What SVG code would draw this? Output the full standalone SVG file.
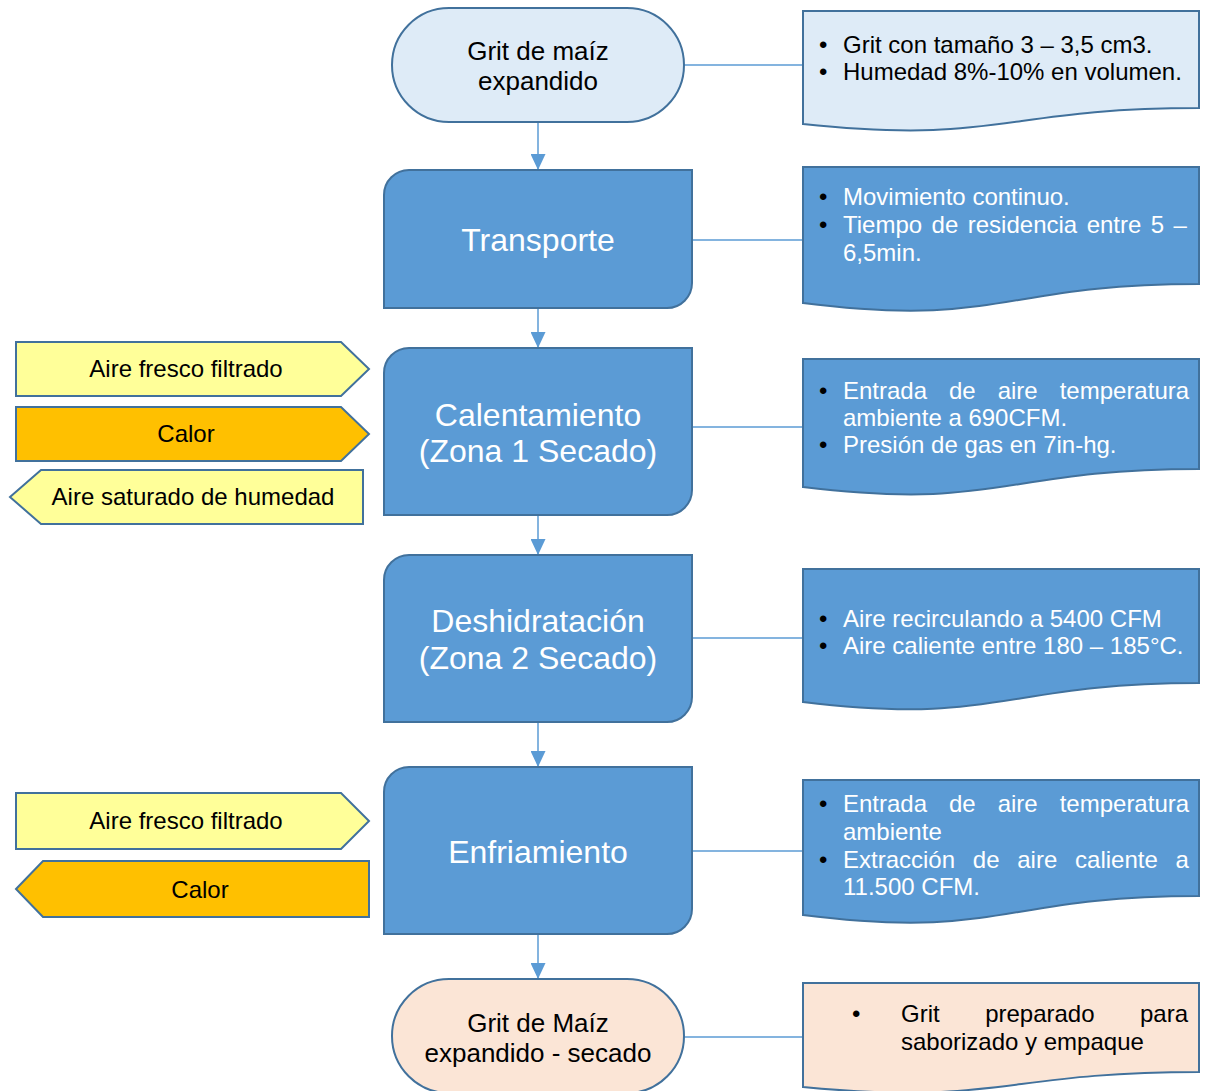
<svg xmlns="http://www.w3.org/2000/svg" width="1205" height="1091" viewBox="0 0 1205 1091">
  <style>
    text { font-family: "Liberation Sans", Arial, sans-serif; }
    .shape { stroke: #41719C; stroke-width: 2; }
    .light { fill: #DEEBF7; }
    .blue { fill: #5B9BD5; }
    .peach { fill: #FBE5D6; }
    .yellow { fill: #FFFF99; }
    .orange { fill: #FFC000; }
    .link { stroke: #5B9BD5; stroke-width: 1.5; fill: none; }
    .t26 { font-size: 26px; fill: #000; text-anchor: middle; }
    .t32 { font-size: 32px; fill: #fff; text-anchor: middle; }
    .t24 { font-size: 24px; fill: #000; text-anchor: middle; }
    .doc { font-size: 24px; }
    .dk { fill: #000; }
    .wt { fill: #fff; }
  </style>
  <defs>
    <marker id="arrow" markerWidth="16" markerHeight="15" refX="16" refY="7.5" orient="auto" markerUnits="userSpaceOnUse">
      <path d="M0,0 L16,7.5 L0,15 Z" fill="#5B9BD5"/>
    </marker>
  </defs>

  <!-- connectors -->
  <g id="connectors">
    <line class="link" x1="538" y1="122" x2="538" y2="170" marker-end="url(#arrow)"/>
    <line class="link" x1="538" y1="308" x2="538" y2="348" marker-end="url(#arrow)"/>
    <line class="link" x1="538" y1="515" x2="538" y2="555" marker-end="url(#arrow)"/>
    <line class="link" x1="538" y1="722" x2="538" y2="767" marker-end="url(#arrow)"/>
    <line class="link" x1="538" y1="934" x2="538" y2="979" marker-end="url(#arrow)"/>
    <line class="link" x1="684" y1="65" x2="803" y2="65"/>
    <line class="link" x1="692" y1="240" x2="803" y2="240"/>
    <line class="link" x1="692" y1="427" x2="803" y2="427"/>
    <line class="link" x1="692" y1="638" x2="803" y2="638"/>
    <line class="link" x1="692" y1="851" x2="803" y2="851"/>
    <line class="link" x1="684" y1="1037" x2="803" y2="1037"/>
  </g>

  <!-- main flow -->
  <g id="start">
    <rect class="shape light" x="392" y="8" width="292" height="114" rx="57"/>
    <text class="t26" x="538" y="60">Grit de maíz</text>
    <text class="t26" x="538" y="90">expandido</text>
  </g>

  <g id="transporte">
    <path class="shape blue" d="M409,170 H692 V283 A25,25 0 0 1 667,308 H384 V195 A25,25 0 0 1 409,170 Z"/>
    <text class="t32" x="538" y="251">Transporte</text>
  </g>

  <g id="calentamiento">
    <path class="shape blue" d="M409,348 H692 V490 A25,25 0 0 1 667,515 H384 V373 A25,25 0 0 1 409,348 Z"/>
    <text class="t32" x="538" y="426">Calentamiento</text>
    <text class="t32" x="538" y="462">(Zona 1 Secado)</text>
  </g>

  <g id="deshidratacion">
    <path class="shape blue" d="M409,555 H692 V697 A25,25 0 0 1 667,722 H384 V580 A25,25 0 0 1 409,555 Z"/>
    <text class="t32" x="538" y="632">Deshidratación</text>
    <text class="t32" x="538" y="669">(Zona 2 Secado)</text>
  </g>

  <g id="enfriamiento">
    <path class="shape blue" d="M409,767 H692 V909 A25,25 0 0 1 667,934 H384 V792 A25,25 0 0 1 409,767 Z"/>
    <text class="t32" x="538" y="863">Enfriamiento</text>
  </g>

  <g id="end">
    <rect class="shape peach" x="392" y="979" width="292" height="114" rx="57"/>
    <text class="t26" x="538" y="1032">Grit de Maíz</text>
    <text class="t26" x="538" y="1062">expandido - secado</text>
  </g>

  <!-- notes -->
  <g id="note-start">
    <path class="shape light" d="M803,11 H1199 V108 C1001,108 1001,145 803,124 Z"/>
    <text class="doc dk" x="819" y="53">•</text>
    <text class="doc dk" x="843" y="53">Grit con tamaño 3 – 3,5 cm3.</text>
    <text class="doc dk" x="819" y="80">•</text>
    <text class="doc dk" x="843" y="80">Humedad 8%-10% en volumen.</text>
  </g>

  <g id="note-transporte">
    <path class="shape blue" d="M803,167 H1199 V284 C1001,284 1001,328 803,303 Z"/>
    <text class="doc dk" x="819" y="205">•</text>
    <text class="doc wt" x="843" y="205">Movimiento continuo.</text>
    <text class="doc dk" x="819" y="233">•</text>
    <text class="doc wt" x="843" y="233" word-spacing="2.8">Tiempo de residencia entre 5 –</text>
    <text class="doc wt" x="843" y="261">6,5min.</text>
  </g>

  <g id="note-calentamiento">
    <path class="shape blue" d="M803,359 H1199 V469 C1001,469 1001,511 803,487 Z"/>
    <text class="doc dk" x="819" y="399">•</text>
    <text class="doc wt" x="843" y="399" word-spacing="15.3">Entrada de aire temperatura</text>
    <text class="doc wt" x="843" y="426">ambiente a 690CFM.</text>
    <text class="doc dk" x="819" y="453">•</text>
    <text class="doc wt" x="843" y="453">Presión de gas en 7in-hg.</text>
  </g>

  <g id="note-deshidratacion">
    <path class="shape blue" d="M803,569 H1199 V683 C1001,683 1001,726 803,702 Z"/>
    <text class="doc dk" x="819" y="627">•</text>
    <text class="doc wt" x="843" y="627">Aire recirculando a 5400 CFM</text>
    <text class="doc dk" x="819" y="654">•</text>
    <text class="doc wt" x="843" y="654">Aire caliente entre 180 – 185°C.</text>
  </g>

  <g id="note-enfriamiento">
    <path class="shape blue" d="M803,780 H1199 V896 C1001,896 1001,940 803,915 Z"/>
    <text class="doc dk" x="819" y="812">•</text>
    <text class="doc wt" x="843" y="812" word-spacing="15.3">Entrada de aire temperatura</text>
    <text class="doc wt" x="843" y="840">ambiente</text>
    <text class="doc dk" x="819" y="868">•</text>
    <text class="doc wt" x="843" y="868" word-spacing="11.1">Extracción de aire caliente a</text>
    <text class="doc wt" x="843" y="895">11.500 CFM.</text>
  </g>

  <g id="note-end">
    <path class="shape peach" d="M803,983 H1199 V1072 C1001,1072 1001,1106 803,1087 Z"/>
    <text class="doc dk" x="852" y="1022">•</text>
    <text class="doc dk" x="901" y="1022" word-spacing="38.8">Grit preparado para</text>
    <text class="doc dk" x="901" y="1050">saborizado y empaque</text>
  </g>

  <!-- inputs / outputs -->
  <g id="in-aire-1">
    <path class="shape yellow" d="M16,342 H341 L369,369 L341,396 H16 Z"/>
    <text class="t24" x="186" y="377">Aire fresco filtrado</text>
  </g>
  <g id="in-calor-1">
    <path class="shape orange" d="M16,407 H341 L369,434 L341,461 H16 Z"/>
    <text class="t24" x="186" y="442">Calor</text>
  </g>
  <g id="out-aire-saturado">
    <path class="shape yellow" d="M10,497 L41,470 H363 V524 H41 Z"/>
    <text class="t24" x="193" y="505">Aire saturado de humedad</text>
  </g>
  <g id="in-aire-2">
    <path class="shape yellow" d="M16,793 H341 L369,821 L341,849 H16 Z"/>
    <text class="t24" x="186" y="829">Aire fresco filtrado</text>
  </g>
  <g id="out-calor-2">
    <path class="shape orange" d="M16,889 L43,861 H369 V917 H43 Z"/>
    <text class="t24" x="200" y="898">Calor</text>
  </g>
</svg>
